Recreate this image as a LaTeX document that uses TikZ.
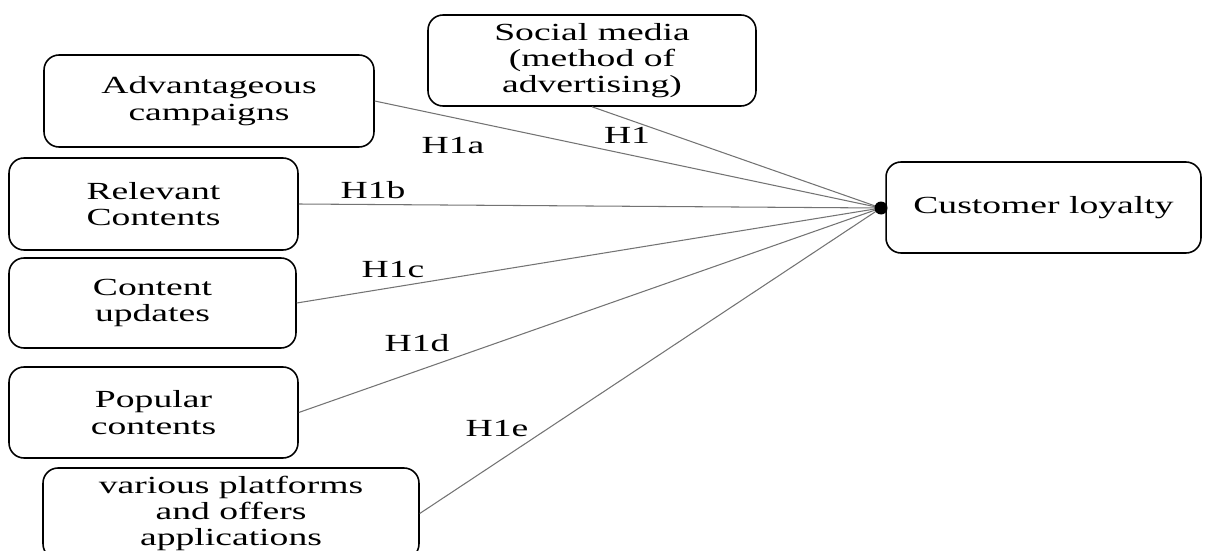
\documentclass[tikz,border=0pt]{standalone}
\usepackage{fontspec}
\setmainfont{Liberation Serif}[FakeStretch=1.53]
\begin{document}
\begin{tikzpicture}[x=0.02cm,y=-0.02cm,
  box/.style={draw, line width=0.9pt, rounded corners=0.3cm, align=center, inner sep=0pt, font=\fontsize{14}{15}\selectfont},
  link/.style={draw=black!55, line width=0.6pt},
  hyp/.style={font=\fontsize{14}{15}\selectfont, inner sep=0pt}]
\useasboundingbox (0,0) rectangle (1214,551);
\clip (0,0) rectangle (1214,551);
\node[box, minimum width=6.56cm, minimum height=1.82cm] (sm) at (592,60.5) {Social media\\(method of\\advertising)};
\node[box, minimum width=6.6cm, minimum height=1.84cm] (adv) at (209,101) {Advantageous\\campaigns};
\node[box, minimum width=5.78cm, minimum height=1.84cm] (rel) at (153.5,204) {Relevant\\Contents};
\node[box, minimum width=5.74cm, minimum height=1.8cm] (cup) at (152.5,303) {Content\\updates};
\node[box, minimum width=5.78cm, minimum height=1.82cm] (pop) at (153.5,412.5) {Popular\\contents};
\node[box, minimum width=7.52cm, minimum height=1.82cm] (var) at (231,513.5) {various platforms\\and offers\\applications};
\node[box, minimum width=6.3cm, minimum height=1.82cm] (cl) at (1043.5,207.5) {Customer loyalty};
\coordinate (tip) at (881,208);
\draw[link] (sm.south) -- (tip);
\draw[link] (adv.east) -- (tip);
\draw[link] (rel.east) -- (tip);
\draw[link] (cup.east) -- (tip);
\draw[link] (pop.east) -- (tip);
\draw[link] (var.east) -- (tip);
\node[circle, fill=black, inner sep=0pt, minimum size=0.26cm] (dot) at (tip) {};
\node[hyp] (h1) at (627,135) {H1};
\node[hyp] (h1a) at (453,145) {H1a};
\node[hyp] (h1b) at (373,190) {H1b};
\node[hyp] (h1c) at (393,269) {H1c};
\node[hyp] (h1d) at (417,343) {H1d};
\node[hyp] (h1e) at (497,428) {H1e};
\end{tikzpicture}
\end{document}
